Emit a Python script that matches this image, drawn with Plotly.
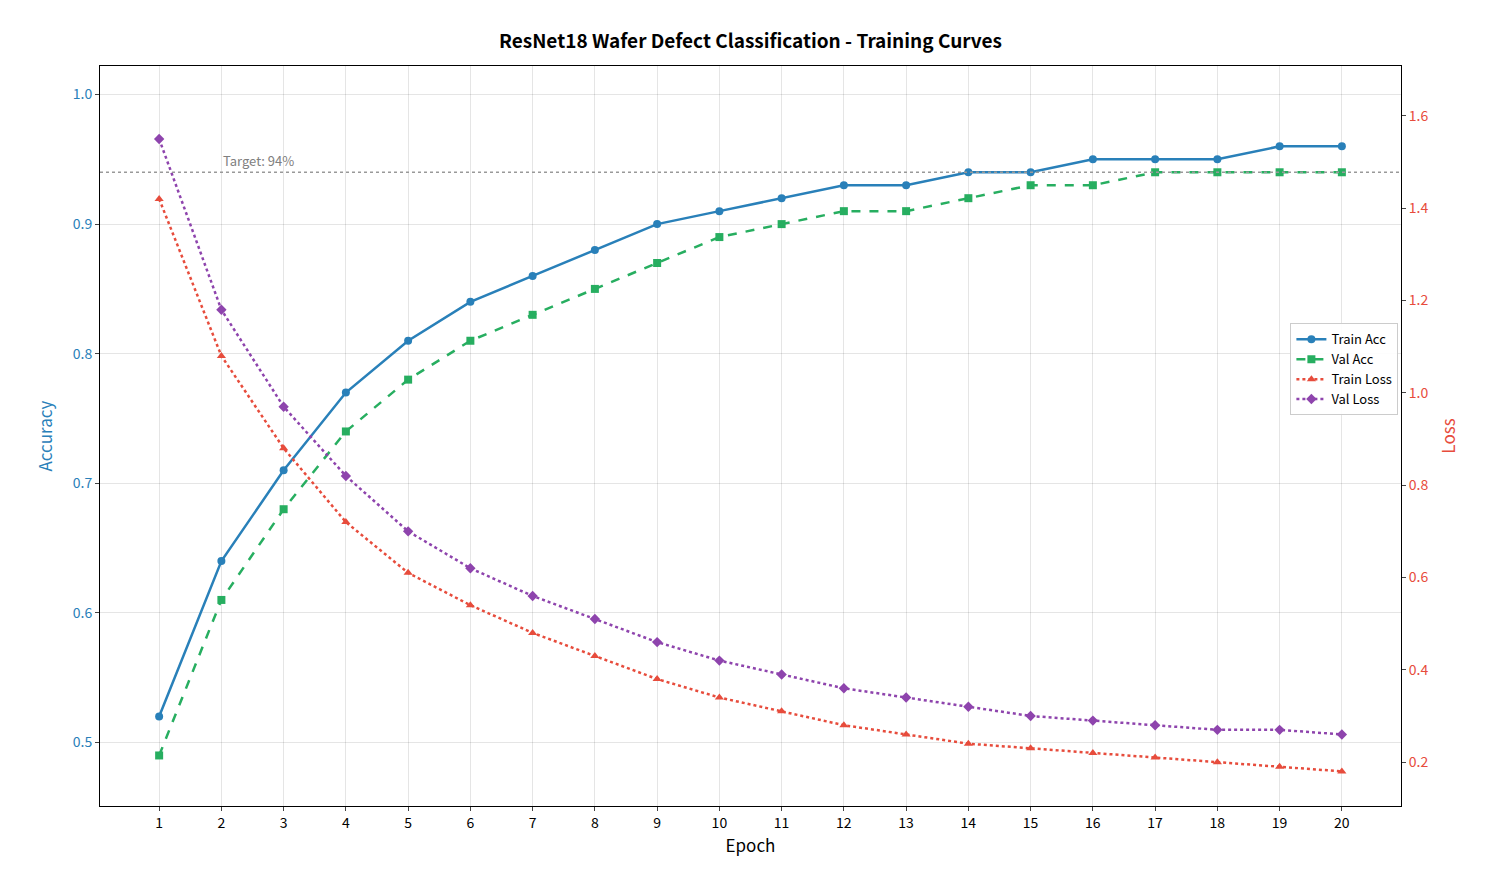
import plotly.graph_objects as go

epochs = list(range(1, 21))
train_acc = [0.52, 0.64, 0.71, 0.77, 0.81, 0.84, 0.86, 0.88, 0.90, 0.91,
             0.92, 0.93, 0.93, 0.94, 0.94, 0.95, 0.95, 0.95, 0.96, 0.96]
val_acc = [0.49, 0.61, 0.68, 0.74, 0.78, 0.81, 0.83, 0.85, 0.87, 0.89,
           0.90, 0.91, 0.91, 0.92, 0.93, 0.93, 0.94, 0.94, 0.94, 0.94]
train_loss = [1.42, 1.08, 0.88, 0.72, 0.61, 0.54, 0.48, 0.43, 0.38, 0.34,
              0.31, 0.28, 0.26, 0.24, 0.23, 0.22, 0.21, 0.20, 0.19, 0.18]
val_loss = [1.55, 1.18, 0.97, 0.82, 0.70, 0.62, 0.56, 0.51, 0.46, 0.42,
            0.39, 0.36, 0.34, 0.32, 0.30, 0.29, 0.28, 0.27, 0.27, 0.26]
target = 0.94

BLUE = '#2980b9'
GREEN = '#27ae60'
RED = '#e74c3c'
PURPLE = '#8e44ad'
FONT = 'Noto Sans CJK SC'

fig = go.Figure()
fig.add_trace(go.Scatter(x=epochs, y=train_acc, name='Train Acc', mode='lines+markers',
                         line=dict(color=BLUE, width=2.5), marker=dict(symbol='circle', size=8)))
fig.add_trace(go.Scatter(x=epochs, y=val_acc, name='Val Acc', mode='lines+markers',
                         line=dict(color=GREEN, width=2.5, dash='dash'), marker=dict(symbol='square', size=8)))
fig.add_trace(go.Scatter(x=epochs, y=train_loss, name='Train Loss', mode='lines+markers', yaxis='y2',
                         line=dict(color=RED, width=2.5, dash='dot'), marker=dict(symbol='triangle-up', size=8)))
fig.add_trace(go.Scatter(x=epochs, y=val_loss, name='Val Loss', mode='lines+markers', yaxis='y2',
                         line=dict(color=PURPLE, width=2.5, dash='dot'), marker=dict(symbol='diamond', size=8)))

fig.add_shape(type='line', xref='paper', x0=0, x1=1, yref='y', y0=target, y1=target,
              line=dict(color='#999999', width=1.5, dash='dot'))
fig.add_annotation(x=2, y=target, text='Target: 94%', showarrow=False, xanchor='left', yanchor='bottom',
                   font=dict(size=13, color='#808080'))

axis_common = dict(showline=True, linecolor='black', linewidth=1, ticks='outside',
                   ticklen=4, zeroline=False)
fig.update_layout(
    width=1485, height=884,
    margin=dict(l=92, r=92, t=58, b=86),
    plot_bgcolor='white', paper_bgcolor='white',
    font=dict(family=FONT, size=14, color='black'),
    title=dict(text='<b>ResNet18 Wafer Defect Classification - Training Curves</b>',
               x=0.5, xanchor='center', y=0.97, font=dict(size=19)),
    xaxis=dict(title=dict(text='Epoch', standoff=8), range=[0.05, 20.95], tickmode='array', tickvals=epochs,
               showgrid=True, gridcolor='rgba(0,0,0,0.1)', mirror=True, **axis_common),
    yaxis=dict(title=dict(text='Accuracy', font=dict(color=BLUE)), range=[0.451, 1.022], dtick=0.1,
               tickformat='.1f', tickfont=dict(color=BLUE), showgrid=True, gridcolor='rgba(0,0,0,0.1)',
               **axis_common),
    yaxis2=dict(title=dict(text='Loss', font=dict(color=RED)), range=[0.105, 1.708], dtick=0.2,
                tickformat='.1f', tickfont=dict(color=RED), overlaying='y', side='right', showgrid=False,
                **axis_common),
    legend=dict(x=0.998, y=0.59, xanchor='right', yanchor='middle', bordercolor='#cccccc', borderwidth=1,
                bgcolor='rgba(255,255,255,0.9)', font=dict(size=13)),
)

fig.write_html('out.html')
